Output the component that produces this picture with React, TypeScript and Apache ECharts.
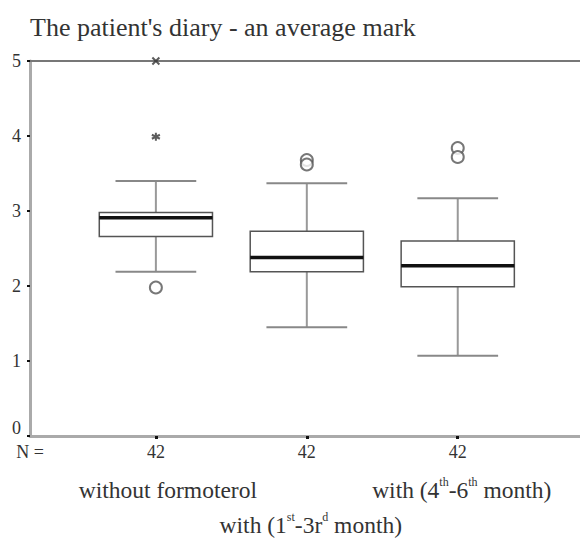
import React, { useEffect, useRef } from 'react';
import * as echarts from 'echarts';

// Group names (rich-text markup marks the superscripts)
const categories = [
  'without formoterol',
  'with (1{sup|st}-3r{sup|d} month)',
  'with (4{sup|th}-6{sup|th} month)',
];
const counts = [42, 42, 42];
// [low whisker, Q1, median, Q3, high whisker]
const boxStats = [
  [2.19, 2.66, 2.91, 2.98, 3.4],
  [1.45, 2.19, 2.38, 2.73, 3.37],
  [1.07, 1.99, 2.27, 2.6, 3.17],
];
// [group position, value]
const outliers = [
  [1, 1.98],
  [2, 3.68],
  [2, 3.62],
  [3, 3.84],
  [3, 3.72],
];
const extremeCross = [[1, 5.0]];
const extremeStar = [[1, 3.99]];
const groupPositions = [1, 2, 3];

const FONT = "'Liberation Serif', 'Times New Roman', serif";
const X_MIN = 0.166;
const X_MAX = 3.81;

export default function App() {
  const ref = useRef<HTMLDivElement>(null);
  useEffect(() => {
    if (!ref.current) return;
    const chart = echarts.init(ref.current, undefined, { renderer: 'svg' });
    const boxData = boxStats.map((s, i) => [groupPositions[i], ...s]);
    const nameStyle = {
      fontFamily: FONT,
      fontSize: 23.5,
      color: '#333',
      lineHeight: 27,
      rich: {
        sup: { fontFamily: FONT, fontSize: 12, color: '#333', verticalAlign: 'top', lineHeight: 27, padding: [0, 0, 12, 0] },
      },
    };
    const nameAxis = (idx: number, margin: number, padLeft: number) => ({
      type: 'value', min: X_MIN, max: X_MAX, position: 'bottom',
      axisLine: { show: false, onZero: false }, axisTick: { show: false }, splitLine: { show: false },
      axisLabel: {
        customValues: [groupPositions[idx]],
        formatter: () => categories[idx],
        margin,
        padding: [0, 0, 0, padLeft],
        ...nameStyle,
      },
    });
    const option: any = {
      animation: false,
      title: {
        text: "The patient's diary - an average mark",
        left: 30,
        top: 14,
        padding: 0,
        textStyle: { fontFamily: FONT, fontSize: 26, fontWeight: 'normal', color: '#333' },
      },
      grid: { left: 30, right: 0, top: 61, bottom: 103, outerBoundsMode: 'none' },
      xAxis: [
        {
          type: 'value', min: X_MIN, max: X_MAX, position: 'bottom',
          axisLine: { onZero: false, lineStyle: { color: '#aaa', width: 3 } },
          axisTick: { customValues: groupPositions, length: 3, lineStyle: { color: '#111', width: 3 } },
          axisLabel: {
            customValues: [X_MIN, ...groupPositions],
            formatter: (v: number) => (v < 0.5 ? 'N =' : String(counts[Math.round(v) - 1])),
            fontFamily: FONT, fontSize: 18, color: '#333', margin: 7,
          },
          splitLine: { show: false },
        },
        {
          type: 'value', min: X_MIN, max: X_MAX, position: 'top',
          axisLine: { onZero: false, lineStyle: { color: '#777', width: 2 } },
          axisTick: { show: false }, axisLabel: { show: false }, splitLine: { show: false },
        },
        nameAxis(0, 40, 24),
        nameAxis(1, 75, 8),
        nameAxis(2, 40, 8),
      ],
      yAxis: {
        type: 'value', min: 0, max: 5, interval: 1,
        axisLine: { show: true, onZero: false, lineStyle: { color: '#aaa', width: 3 } },
        axisTick: { show: true, length: 3, lineStyle: { color: '#111', width: 2 } },
        axisLabel: {
          fontFamily: FONT, fontSize: 18, color: '#333', margin: 9,
          formatter: (v: number) => (v === 0 ? '{z|0}' : String(v)),
          rich: { z: { fontFamily: FONT, fontSize: 18, color: '#333', padding: [0, 0, 16, 0] } },
        },
        splitLine: { show: false },
      },
      series: [
        {
          type: 'custom',
          data: boxData,
          encode: { x: 0, y: [1, 2, 3, 4, 5] },
          clip: false,
          renderItem: (params: any, api: any) => {
            const x = api.value(0);
            const pLow = api.coord([x, api.value(1)]);
            const pQ1 = api.coord([x, api.value(2)]);
            const pMed = api.coord([x, api.value(3)]);
            const pQ3 = api.coord([x, api.value(4)]);
            const pHigh = api.coord([x, api.value(5)]);
            const bw = api.size([0.75, 0])[0];
            const cw = api.size([0.535, 0])[0];
            const cx = pLow[0];
            const whisker = { stroke: '#999', lineWidth: 2 };
            const cap = { stroke: '#888', lineWidth: 2 };
            return {
              type: 'group',
              children: [
                { type: 'line', shape: { x1: cx, y1: pQ3[1], x2: cx, y2: pHigh[1] }, style: whisker },
                { type: 'line', shape: { x1: cx, y1: pQ1[1], x2: cx, y2: pLow[1] }, style: whisker },
                { type: 'line', shape: { x1: cx - cw / 2, y1: pHigh[1], x2: cx + cw / 2, y2: pHigh[1] }, style: cap },
                { type: 'line', shape: { x1: cx - cw / 2, y1: pLow[1], x2: cx + cw / 2, y2: pLow[1] }, style: cap },
                {
                  type: 'rect',
                  shape: { x: cx - bw / 2, y: pQ3[1], width: bw, height: pQ1[1] - pQ3[1] },
                  style: { fill: '#fff', stroke: '#555', lineWidth: 1.5 },
                },
                { type: 'line', shape: { x1: cx - bw / 2, y1: pMed[1], x2: cx + bw / 2, y2: pMed[1] }, style: { stroke: '#111', lineWidth: 3.5 } },
              ],
            };
          },
        },
        {
          type: 'scatter', data: outliers, symbol: 'emptyCircle', symbolSize: 12, clip: false,
          itemStyle: { color: '#555', borderColor: '#555', borderWidth: 2.2 },
        },
        {
          type: 'scatter', data: extremeCross, symbol: 'path://M0 0L10 10M10 0L0 10', symbolSize: 7, clip: false,
          itemStyle: { color: 'none', borderColor: '#333', borderWidth: 2 },
        },
        {
          type: 'scatter', data: extremeStar, symbol: 'path://M5 0L5 10M0.7 2.5L9.3 7.5M0.7 7.5L9.3 2.5', symbolSize: 8, clip: false,
          itemStyle: { color: 'none', borderColor: '#333', borderWidth: 2 },
        },
      ],
    };
    chart.setOption(option);
    return () => chart.dispose();
  }, []);
  return <div ref={ref} style={{ position: 'fixed', left: 0, top: 0, width: 580, height: 539, background: '#fff' }} />;
}
